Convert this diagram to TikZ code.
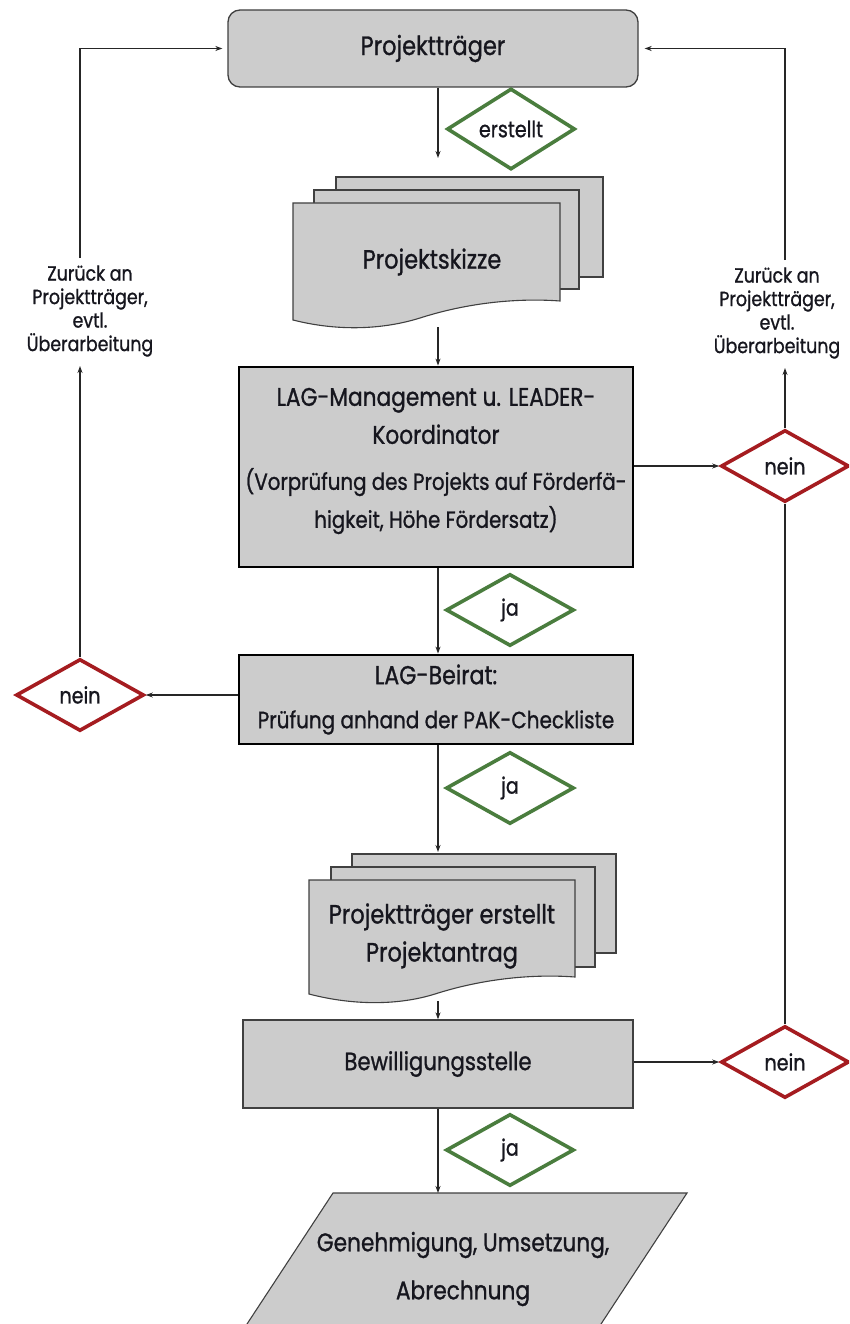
\documentclass[tikz,border=0pt]{standalone}
\usepackage{fontspec}
\setmainfont{Poppins}[FakeStretch=0.85,FakeBold=1]
\usetikzlibrary{shapes.geometric,arrows.meta}
\definecolor{boxgray}{RGB}{204,204,204}
\definecolor{dgreen}{RGB}{74,125,62}
\definecolor{dred}{RGB}{165,28,32}
\definecolor{txt}{RGB}{22,22,30}
\newcommand{\fsz}[2]{\fontsize{#1}{#2}\selectfont}
\begin{document}
\begin{tikzpicture}[x=1pt,y=-1pt,
  conn/.style={draw=black!85, line width=1.2pt, -{Stealth[length=7pt,width=5pt]}},
  plain/.style={draw=black!85, line width=1.2pt},
  procbox/.style={draw=black!75, line width=1.3pt, fill=boxgray, text=txt, align=center, inner sep=0, font=\fsz{25}{38}},
  heavybox/.style={procbox, draw=black, line width=2.8pt},
  decide/.style={diamond, draw, line width=3.6pt, fill=white, text=txt, inner sep=0, minimum width=128, minimum height=72, font=\fsz{22.5}{24}},
  yes/.style={decide, draw=dgreen},
  no/.style={decide, draw=dred},
  doc/.style={draw=black!75, line width=1.1pt, fill=boxgray},
  backlabel/.style={font=\fsz{20.5}{23.5}, align=center, text=txt, inner sep=0},
  doctext/.style={font=\fsz{26.5}{38}, align=center, text=txt, inner sep=0}
]
\useasboundingbox (0,0) rectangle (849,1324);
\clip (0,0) rectangle (849,1324);

% top box
\node[procbox, rounded corners=12pt, minimum width=410, minimum height=77, font=\fsz{26.5}{30}] (pt) at (433,48.5) {Projektträger};

% Projektskizze (multi document)
\path[doc] (336,177) rectangle (603,277);
\path[doc] (314,190) rectangle (579,289);
\path[doc] (293,203) -- (560,203) -- (560,301)
   .. controls (520,298) and (470,302) .. (420,318)
   .. controls (385,329) and (340,332) .. (293,320) -- cycle;
\node[doctext] (skizze) at (432,262) {Projektskizze};
\coordinate (skzin) at (438,158);
\coordinate (skzout) at (438,327);

% LAG-Management
\node[heavybox, minimum width=394, minimum height=200] (lag) at (436,467) {};
\node[font=\fsz{23.3}{38}, align=center, text=txt, inner sep=0] (lagtxt) at (436,461)
  {{\fsz{25.5}{37}LAG-Management u. LEADER-}\\{\fsz{25.5}{37}Koordinator}\\[8pt](Vorprüfung des Projekts auf Förderfä-\\higkeit, Höhe Fördersatz)};

% LAG-Beirat
\node[heavybox, minimum width=394, minimum height=89, font=\fsz{23.5}{44}] (beirat) at (436,699.5)
  {{\fsz{26}{44}LAG-Beirat:}\\Prüfung anhand der PAK-Checkliste};

% Projektantrag (multi document)
\path[doc] (352,854) rectangle (616,953);
\path[doc] (331,867) rectangle (595,967);
\path[doc] (309,880) -- (575,880) -- (575,977)
   .. controls (535,974) and (485,978) .. (435,994)
   .. controls (400,1005) and (355,1006) .. (309,994) -- cycle;
\node[doctext] (antrag) at (442,936) {Projektträger erstellt\\Projektantrag};
\coordinate (antin) at (438,852);
\coordinate (antout) at (438,1001);

% Bewilligungsstelle
\node[procbox, minimum width=390, minimum height=88] (bew) at (438,1064) {Bewilligungsstelle};

% final parallelogram
\path[doc] (333,1193) -- (687,1193) -- (590.5,1340) -- (236.5,1340) -- cycle;
\node[doctext, font=\fsz{25.5}{48}] (gen) at (463,1269) {Genehmigung, Umsetzung,\\Abrechnung};
\coordinate (genin) at (438,1193);

% decisions
\node[yes] (erstellt) at (511,129) {erstellt};
\node[yes] (ja1) at (510,610) {ja};
\node[yes] (ja2) at (510,788) {ja};
\node[yes] (ja3) at (510,1150) {ja};
\node[no] (neinR1) at (785,466) {nein};
\node[no] (neinR2) at (785,1062) {nein};
\node[no] (neinL) at (80,695) {nein};

% back labels
\node[backlabel] (backL) at (90,311) {Zurück an\\Projektträger,\\evtl.\\Überarbeitung};
\node[backlabel] (backR) at (777,313) {Zurück an\\Projektträger,\\evtl.\\Überarbeitung};
\coordinate (backLin) at (80,366);
\coordinate (backLout) at (80,258);
\coordinate (backRin) at (785,368);
\coordinate (backRout) at (785,260);

% main flow connectors
\draw[conn] (pt.south -| skzin) -- (skzin);
\draw[conn] (skzout) -- (lag.north -| skzout);
\draw[conn] (lag.south -| skzout) -- (beirat.north -| skzout);
\draw[conn] (beirat.south -| antin) -- (antin);
\draw[conn] (antout) -- (bew.north -| antout);
\draw[conn] (bew.south -| genin) -- (genin);

% no branches
\draw[conn] (lag.east |- neinR1) -- (neinR1.west);
\draw[conn] (bew.east |- neinR2) -- (neinR2.west);
\draw[conn] (beirat.west |- neinL) -- (neinL.east);
\draw[plain] (neinR2.north) -- (neinR1.south);
\draw[conn] (neinR1.north) -- (backRin);
\draw[conn] (neinL.north) -- (backLin);
\draw[conn, shorten >=6pt] (backRout) |- (pt.east);
\draw[conn, shorten >=5pt] (backLout) |- (pt.west);
\end{tikzpicture}
\end{document}
